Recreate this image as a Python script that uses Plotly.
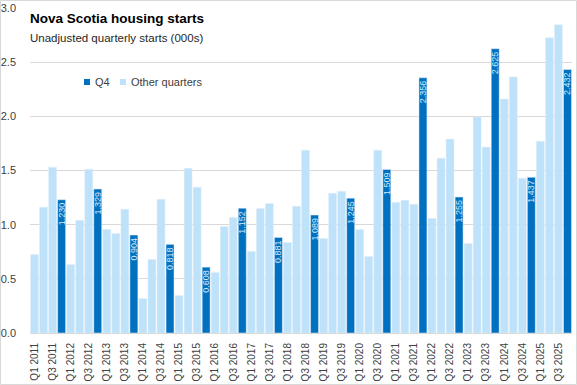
import plotly.graph_objects as go

years = list(range(2011, 2026))
quarters = [f"Q{q} {y}" for y in years for q in (1, 2, 3, 4)]

starts = [
    0.725, 1.160, 1.531, 1.230,
    0.632, 1.040, 1.512, 1.329,
    0.956, 0.919, 1.142, 0.904,
    0.318, 0.679, 1.234, 0.818,
    0.346, 1.521, 1.345, 0.608,
    0.558, 0.984, 1.067, 1.152,
    0.753, 1.150, 1.196, 0.881,
    0.836, 1.170, 1.688, 1.089,
    0.873, 1.290, 1.308, 1.245,
    0.956, 0.706, 1.688, 1.509,
    1.206, 1.225, 1.188, 2.356,
    1.058, 1.614, 1.790, 1.255,
    0.827, 1.994, 1.716, 2.625,
    2.160, 2.364, 1.429, 1.437,
    1.771, 2.725, 2.845, 2.432,
]

q4_vals = [v if q.startswith("Q4") else None for q, v in zip(quarters, starts)]
other_vals = [None if q.startswith("Q4") else v for q, v in zip(quarters, starts)]
q4_text = [f"{v:.3f}" if v is not None else "" for v in q4_vals]
tick_labels = [q for q in quarters if q.startswith("Q1") or q.startswith("Q3")]

DARK = "#0070C0"
LIGHT = "#BDE2FA"
FONT = "Liberation Sans, Arial, sans-serif"

fig = go.Figure()
fig.add_trace(go.Bar(
    x=quarters, y=q4_vals, name="Q4", marker_color=DARK,
    text=q4_text, textposition="inside", insidetextanchor="end",
    textangle=-90, textfont=dict(color="#D6EBFB", size=9, family=FONT),
    showlegend=False, hoverinfo="skip",
))
fig.add_trace(go.Bar(
    x=quarters, y=other_vals, name="Other quarters", marker_color=LIGHT,
    showlegend=False, hoverinfo="skip",
))

W, H = 577, 385
L, R, T, B = 30, 5, 8, 52
pw, ph = W - L - R, H - T - B

def px(x):
    return (x - L) / pw

def py(y):
    return (H - B - y) / ph

legend_items = [("Q4", DARK, 84), ("Other quarters", LIGHT, 120)]
shapes = [
    dict(type="rect", xref="paper", yref="paper",
         x0=px(0.5), x1=px(W - 0.5), y0=py(H - 0.5), y1=py(0.5),
         line=dict(color="#D9D9D9", width=1), layer="below"),
]
annotations = [
    dict(text="<b>Nova Scotia housing starts</b>", xref="paper", yref="paper",
         x=px(28), y=py(18), xanchor="left", yanchor="middle",
         showarrow=False, font=dict(size=13.5, color="#000000", family=FONT)),
    dict(text="Unadjusted quarterly starts (000s)", xref="paper", yref="paper",
         x=px(28), y=py(38), xanchor="left", yanchor="middle",
         showarrow=False, font=dict(size=11.5, color="#262626", family=FONT)),
]
for name, col, x0 in legend_items:
    shapes.append(dict(type="rect", xref="paper", yref="paper",
                       x0=px(x0), x1=px(x0 + 6), y0=py(85), y1=py(79),
                       fillcolor=col, line=dict(width=0)))
    annotations.append(dict(text=name, xref="paper", yref="paper",
                            x=px(x0 + 9), y=py(82), xanchor="left", yanchor="middle",
                            showarrow=False,
                            font=dict(size=11, color="#404040", family=FONT)))

fig.update_layout(
    width=W, height=H,
    margin=dict(l=L, r=R, t=T, b=B),
    paper_bgcolor="white", plot_bgcolor="white",
    barmode="overlay", bargap=0.12,
    font=dict(family=FONT, color="#404040", size=11),
    uniformtext=dict(minsize=9, mode="show"),
    hovermode=False,
    xaxis=dict(
        type="category", categoryorder="array", categoryarray=quarters,
        tickmode="array", tickvals=tick_labels, ticktext=tick_labels,
        tickangle=-90, showgrid=False, ticks="", ticklabelstandoff=5,
        automargin=False,
        showline=True, linecolor="#D9D9D9", linewidth=1,
        tickfont=dict(size=10, color="#404040", family=FONT),
    ),
    yaxis=dict(
        range=[0, 3.0], dtick=0.5, tickformat=".1f",
        showgrid=True, gridcolor="#D9D9D9", gridwidth=1,
        zeroline=False, ticks="", ticklabelstandoff=13, automargin=False,
        tickfont=dict(size=11, color="#404040", family=FONT),
    ),
    annotations=annotations,
    shapes=shapes,
)

fig.write_html("out.html", config={"displayModeBar": False},
               post_script="document.body.style.margin='0';")
